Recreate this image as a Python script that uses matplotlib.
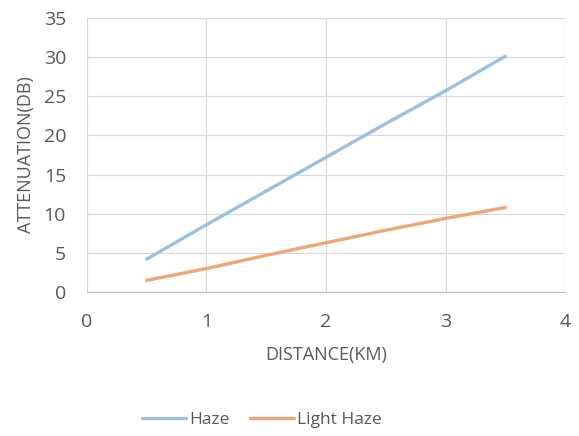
import numpy as np
import matplotlib.pyplot as plt

distance = [0.5, 1.0, 1.5, 2.0, 2.5, 3.0, 3.5]
haze = [4.2, 8.6, 12.9, 17.2, 21.5, 25.7, 30.1]
light_haze = [1.5, 3.0, 4.7, 6.3, 7.9, 9.4, 10.8]
x_ticks = [0, 1, 2, 3, 4]
y_ticks = [0, 5, 10, 15, 20, 25, 30, 35]

plt.rcParams['font.family'] = ['Open Sans', 'DejaVu Sans']
txt = '#595959'

fig = plt.figure(figsize=(5.79, 4.36), dpi=100)
ax = fig.add_axes([0.150, 0.330, 0.826, 0.629])

ax.plot(distance, haze, color='#9DC0DE', lw=2.4, label='Haze', solid_capstyle='round')
ax.plot(distance, light_haze, color='#F0A578', lw=2.4, label='Light Haze', solid_capstyle='round')

ax.set_xlim(0, 4)
ax.set_ylim(0, 35)
ax.set_xticks(x_ticks)
ax.set_yticks(y_ticks)
ax.grid(True, color='#D9D9D9', lw=0.9)
ax.set_axisbelow(True)
for s in ['top', 'right', 'left']:
    ax.spines[s].set_visible(False)
ax.spines['bottom'].set_color('#BFBFBF')
ax.tick_params(length=0, labelsize=14, labelcolor=txt)
ax.tick_params(axis='x', pad=15)
ax.tick_params(axis='y', pad=15)
ax.set_xlabel('DISTANCE(KM)', fontsize=13, color=txt, labelpad=11)
ax.set_ylabel('ATTENUATION(DB)', fontsize=13, color=txt, labelpad=6)

fig.legend(loc='center', bbox_to_anchor=(0.4525, 0.037), ncol=2, frameon=False,
           fontsize=12.5, labelcolor=txt, handlelength=2.5, handletextpad=0.2,
           columnspacing=1.2)

fig.savefig('out.png', dpi=100)
